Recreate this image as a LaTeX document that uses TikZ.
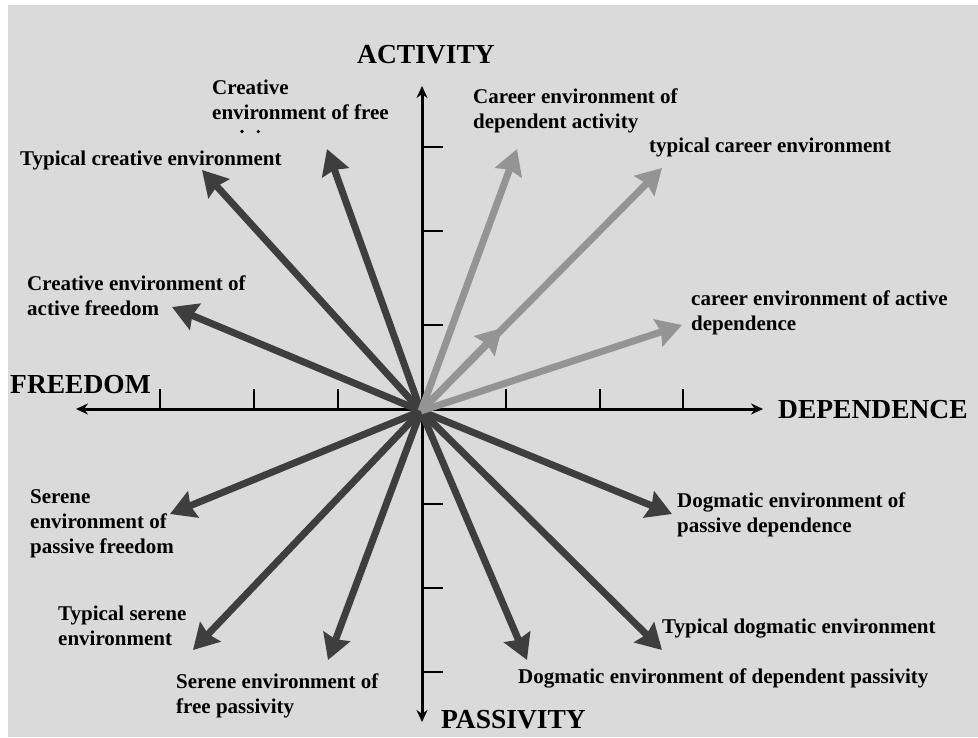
\documentclass[tikz,border=0pt]{standalone}
\usepackage{fontspec}
\setmainfont{Liberation Serif}
\usetikzlibrary{arrows.meta}
\definecolor{bg}{HTML}{DADADA}
\definecolor{darkarrow}{HTML}{3E3E3E}
\definecolor{lightarrow}{HTML}{949494}
\begin{document}
\begin{tikzpicture}[x=1pt,y=-1pt,
  lbl/.style={font=\bfseries\fontsize{21}{25}\selectfont, inner sep=0pt, anchor=base west, align=left, text=black},
  axlbl/.style={font=\bfseries\fontsize{27.5}{30}\selectfont, inner sep=0pt, anchor=base west, text=black},
  axisline/.style={line width=3pt, {Stealth[length=12pt,width=11pt]}-{Stealth[length=12pt,width=11pt]}},
  tickmark/.style={line width=2.6pt},
  darkarr/.style={line width=7pt, draw=darkarrow, -{Stealth[length=25pt,width=28pt,inset=3pt]}},
  lightarr/.style={line width=7pt, draw=lightarrow, -{Stealth[length=25pt,width=28pt,inset=3pt]}}]
\useasboundingbox (0,0) rectangle (978,737);
\fill[white] (0,0) rectangle (978,737);
\fill[bg] (8,5) rectangle (978,737);

% origin and axis ends
\coordinate (O) at (421,411);
\coordinate (xl) at (76,409);
\coordinate (xr) at (763,409);
\coordinate (yt) at (422,86);
\coordinate (yb) at (422,722);

\draw[axisline] (xl) -- (xr);
\draw[axisline] (yt) -- (yb);

% ticks
\foreach \x in {160,254,338,506,600,683}
  \draw[tickmark] (\x,409) -- (\x,389);
\foreach \y in {147,231,325,504,588,672}
  \draw[tickmark] (422,\y) -- (443,\y);

% arrow tips
\coordinate (ct) at (202,170);
\coordinate (cf) at (327,149);
\coordinate (ca) at (172,307);
\coordinate (cd) at (517,149);
\coordinate (tc) at (662,168);
\coordinate (tcm) at (502,328);
\coordinate (cad) at (682,325);
\coordinate (dp) at (672,514);
\coordinate (td) at (662,650);
\coordinate (ddp) at (527,660);
\coordinate (sp) at (170,514);
\coordinate (ts) at (193,650);
\coordinate (sfp) at (328,660);

\foreach \t in {ct,cf,ca,dp,td,ddp,sp,ts,sfp}
  \draw[darkarr] (O) -- (\t);
\foreach \t in {cd,tc,tcm,cad}
  \draw[lightarr] (O) -- (\t);

% axis labels
\node[axlbl] (act) at (357,63) {ACTIVITY};
\node[axlbl] (fre) at (10,393) {FREEDOM};
\node[axlbl] (dep) at (778,418) {DEPENDENCE};
\node[axlbl] (pas) at (441,728) {PASSIVITY};

% labels (base anchor = baseline of last line)
\node[lbl] (Lcf) at (212,119) {Creative\\environment of free};
\fill[black] (242,131.5) circle (1.8) (258.3,131.5) circle (1.8);
\node[lbl] (Lct) at (20,165) {Typical creative environment};
\node[lbl] (Lca) at (27,315) {Creative environment of\\active freedom};
\node[lbl] (Lcd) at (473,128) {Career environment of\\dependent activity};
\node[lbl] (Ltc) at (649,152) {typical career environment};
\node[lbl] (Lcad) at (691,330) {career environment of active\\dependence};
\node[lbl] (Ldp) at (677,532) {Dogmatic environment of\\passive dependence};
\node[lbl] (Ltd) at (662,633) {Typical dogmatic environment};
\node[lbl] (Lddp) at (518,683) {Dogmatic environment of dependent passivity};
\node[lbl] (Lsp) at (30,553) {Serene\\environment of\\passive freedom};
\node[lbl] (Lts) at (58,645) {Typical serene\\environment};
\node[lbl] (Lsfp) at (176,713) {Serene environment of\\free passivity};
\end{tikzpicture}
\end{document}
